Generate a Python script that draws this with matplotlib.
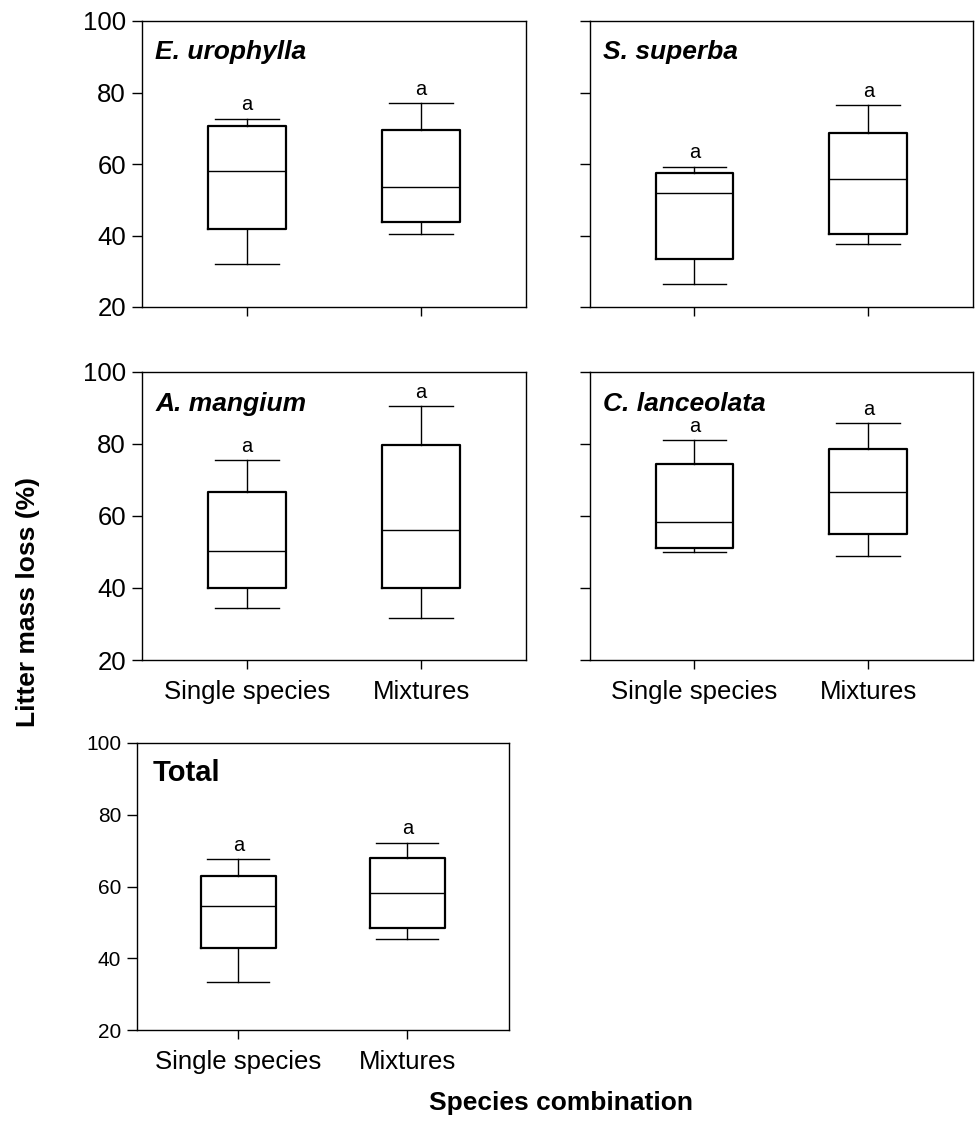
import matplotlib
matplotlib.use('Agg')
from matplotlib import pyplot as plt

plt.rcParams['font.family'] = ['Liberation Sans', 'DejaVu Sans']

# data (litter mass loss, %)
panel_names = ["E. urophylla", "S. superba", "A. mangium", "C. lanceolata", "Total"]
groups = ["Single species", "Mixtures"]
letters = ["a", "a"]

whislo = [[32.0, 40.3], [26.3, 37.5], [34.5, 31.8], [50.1, 48.9], [33.5, 45.3]]
q1 = [[41.7, 43.7], [33.3, 40.3], [39.9, 39.9], [51.2, 55.1], [42.8, 48.4]]
med = [[58.1, 53.7], [51.8, 55.8], [50.3, 56.2], [58.4, 66.6], [54.6, 58.2]]
q3 = [[70.6, 69.5], [57.4, 68.7], [66.6, 79.7], [74.5, 78.7], [63.0, 68.0]]
whishi = [[72.7, 77.1], [59.3, 76.5], [75.6, 90.5], [81.1, 85.7], [67.6, 72.2]]

yticks = [20, 40, 60, 80, 100]

W, H = 975, 1123
fig = plt.figure(figsize=(W / 100, H / 100), dpi=100)

# axes boxes in pixels: left, top, right, bottom
boxes_px = [(142, 21, 526, 307), (590, 21, 973, 307),
            (142, 372, 526, 660), (590, 372, 973, 660),
            (137, 743, 509, 1030)]

for i, name in enumerate(panel_names):
    l, t, r, b = boxes_px[i]
    ax = fig.add_axes([l / W, 1 - b / H, (r - l) / W, (b - t) / H])
    stats = []
    for j in range(2):
        stats.append(dict(med=med[i][j], q1=q1[i][j], q3=q3[i][j],
                          whislo=whislo[i][j], whishi=whishi[i][j], fliers=[]))
    ax.bxp(stats, positions=[1, 2], widths=0.447, capwidths=0.367,
           showfliers=False, manage_ticks=False,
           boxprops=dict(color='black', linewidth=1.6),
           whiskerprops=dict(color='black', linewidth=1.0),
           capprops=dict(color='black', linewidth=1.0),
           medianprops=dict(color='black', linewidth=1.0))
    for j in range(2):
        ax.text(j + 1, whishi[i][j] + 1.2, letters[j], ha='center', va='bottom', fontsize=14.5)

    ax.set_xlim(0.399, 2.602)
    ax.set_ylim(20, 100)
    ax.set_yticks(yticks)
    ax.set_xticks([1, 2])
    for s in ax.spines.values():
        s.set_linewidth(1.0)
    ax.tick_params(axis='y', direction='out', length=7.5, width=1.0, pad=4)
    ax.tick_params(axis='x', direction='out', length=6.5, width=1.0, pad=8)

    if i in (1, 3):
        ax.set_yticklabels([])
    else:
        ax.set_yticklabels([str(v) for v in yticks], fontsize=15 if i == 4 else 18.5)
    if i in (0, 1):
        ax.set_xticklabels([])
    else:
        ax.set_xticklabels(groups, fontsize=18.5)

    if name == "Total":
        ax.text(0.043, 0.895, name, transform=ax.transAxes, ha='left', va='center',
                fontsize=21, fontweight='bold')
    else:
        ax.text(0.035, 0.89, name, transform=ax.transAxes, ha='left', va='center',
                fontsize=19, fontweight='bold', fontstyle='italic')

fig.text(28 / W, 1 - 602 / H, "Litter mass loss (%)", rotation=90, ha='center', va='center',
         fontsize=19, fontweight='bold')
fig.text(561 / W, 1 - 1103 / H, "Species combination", ha='center', va='center',
         fontsize=19, fontweight='bold')

fig.savefig("out.png", dpi=100)
